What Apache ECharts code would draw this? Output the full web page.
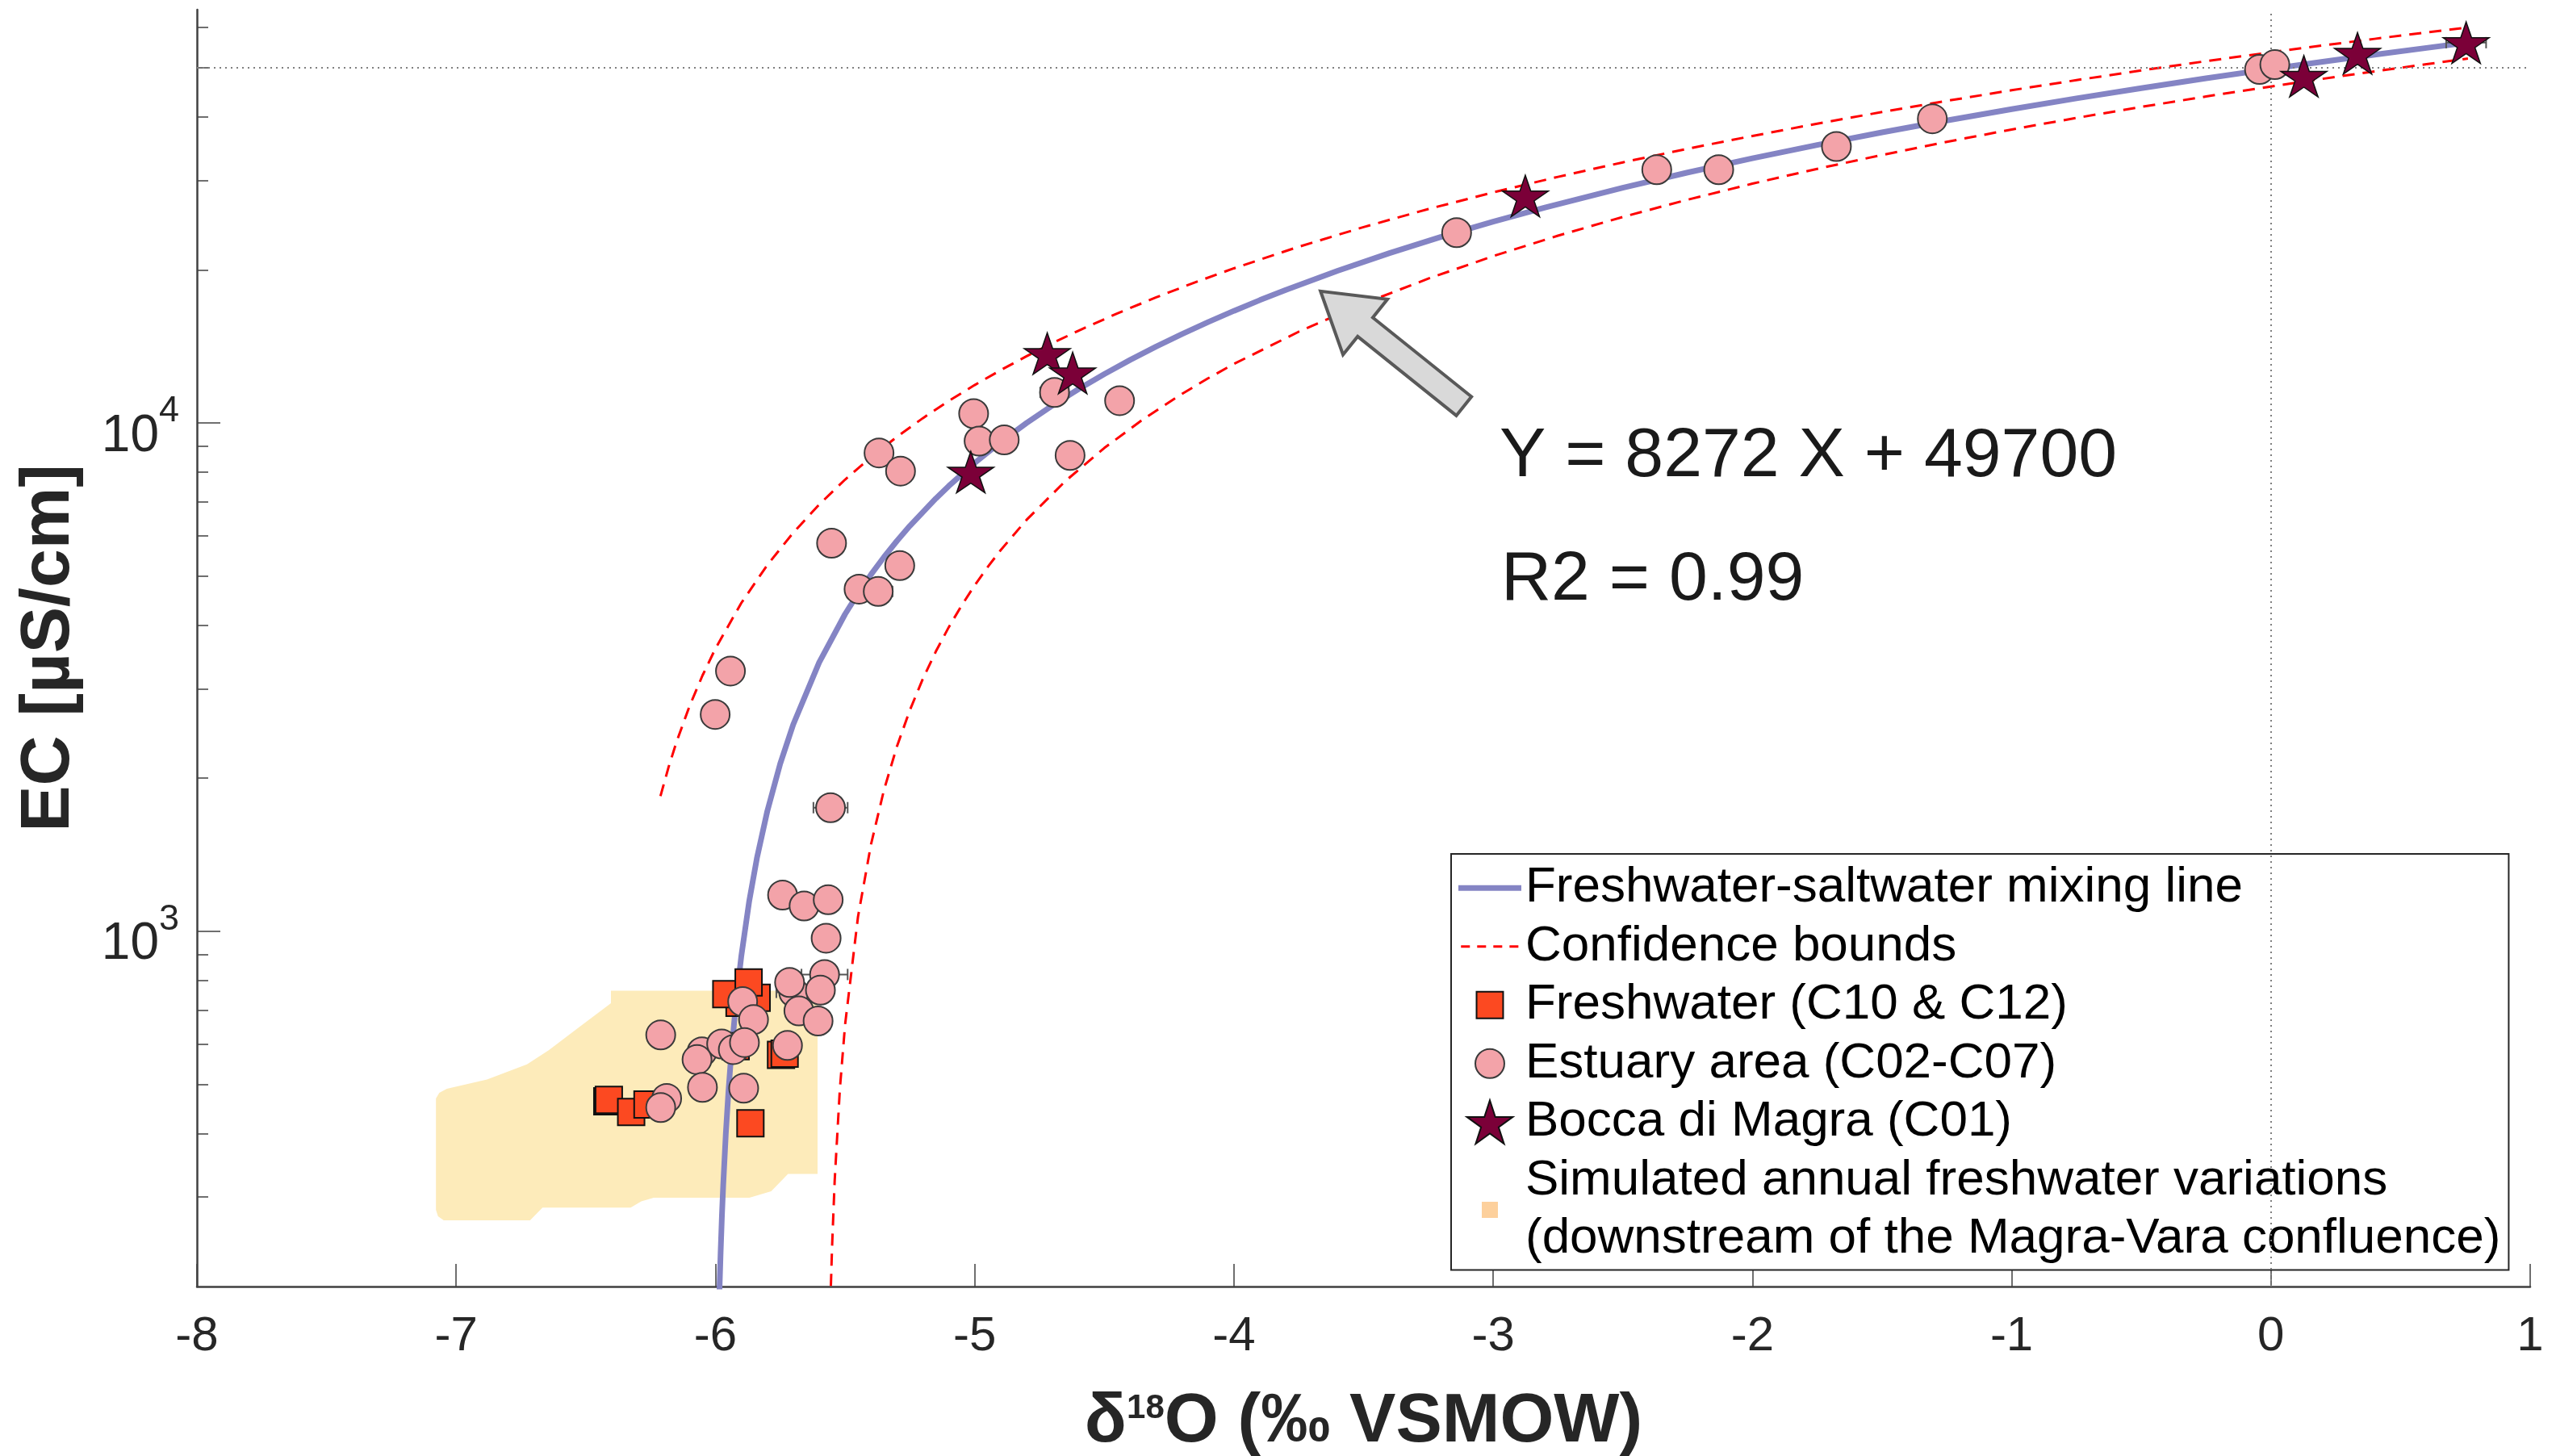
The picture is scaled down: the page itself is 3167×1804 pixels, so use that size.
<!DOCTYPE html>
<html lang="en">
<head>
<meta charset="UTF-8">
<title>EC vs d18O mixing</title>
<script src="https://cdn.jsdelivr.net/npm/echarts@6/dist/echarts.min.js"></script>
<style>
    html, body { margin: 0; padding: 0; background: #fff; }
    #main { width: 3167px; height: 1804px; }
</style>
</head>
<body>
<div id="main"></div>
<script>
// values: x = d18O (permil VSMOW), y = EC (uS/cm, log axis)
var yMajorTicks = [1000, 10000];
var yMinorTicks = [300, 400, 500, 600, 700, 800, 900, 2000, 3000, 4000, 5000, 6000, 7000, 8000, 9000,
    20000, 30000, 40000, 50000, 60000];
var seawaterEC = 50000;

// fitted mixing line and its confidence bounds, sampled along the drawn curves
var mixDelta = [-5.985, -5.98, -5.975, -5.97, -5.96, -5.95, -5.94, -5.92, -5.9, -5.87, -5.84, -5.8, -5.75, -5.7,
    -5.6, -5.5, -5.45, -5.4, -5.35, -5.3, -5.25, -5.15, -5.1, -5.0, -4.9, -4.8, -4.7, -4.6, -4.5, -4.4, -4.3, -4.2,
    -4.1, -4.0, -3.9, -3.8, -3.6, -3.4, -3.2, -3.0, -2.8, -2.5, -2.25, -2.0, -1.75, -1.5, -1.25, -1.0, -0.75,
    -0.5, -0.25, 0, 0.2, 0.4, 0.6, 0.76];
var mixEC = [192, 233, 275, 316, 399, 482, 564, 730, 895, 1143, 1392, 1722, 2136, 2550,
    3377, 4204, 4618, 5031, 5445, 5858, 6272, 7099, 7513, 8340, 9167, 9994, 10822, 11649, 12476, 13303, 14130, 14958,
    15785, 16612, 17439, 18266, 19921, 21575, 23230, 24884, 26538, 29020, 31088, 33156, 35224, 37292, 39360, 41428, 43496,
    45564, 47632, 49700, 51354, 53009, 54663, 55987];

var upperDelta = [-6.212, -6.18, -6.15, -6.1, -6.05, -6.0, -5.9, -5.8, -5.7, -5.6, -5.5, -5.4, -5.3, -5.2, -5.1,
    -5.0, -4.9, -4.8, -4.7, -4.6, -4.45, -4.3, -4.15, -4.0, -3.75, -3.5, -3.25, -3.0, -2.75, -2.5, -2.25, -2.0,
    -1.75, -1.5, -1.25, -1.0, -0.75, -0.5, -0.25, 0, 0.2, 0.4, 0.6, 0.76];
var upperEC = [1844, 2109, 2357, 2771, 3184, 3598, 4425, 5252, 6080, 6907, 7734, 8561, 9388, 10216, 11043,
    11870, 12697, 13524, 14352, 15179, 16420, 17660, 18901, 20142, 22210, 24278, 26346, 28414, 30482, 32550, 34618, 36686,
    38784, 40892, 43010, 45128, 47246, 49364, 51482, 53600, 55279, 56959, 58638, 59987];

var lowerDelta = [-5.557, -5.55, -5.54, -5.52, -5.5, -5.45, -5.4, -5.35, -5.3, -5.25, -5.2, -5.15, -5.1, -5.05,
    -5.0, -4.95, -4.9, -4.8, -4.65, -4.5, -4.35, -4.2, -4.1, -4.0, -3.75, -3.5, -3.25, -3.0, -2.75, -2.5, -2.25,
    -2.0, -1.75, -1.5, -1.25, -1.0, -0.75, -0.5, -0.25, 0, 0.2, 0.4, 0.6, 0.76];
var lowerEC = [183, 240, 323, 489, 654, 1068, 1481, 1895, 2308, 2722, 3136, 3549, 3963, 4376,
    4790, 5204, 5617, 6444, 7685, 8926, 10167, 11408, 12235, 13062, 15115, 17168, 19226, 21284, 23352, 25420, 27488,
    29556, 31609, 33662, 35720, 37778, 39811, 41844, 43872, 45900, 47529, 49159, 50783, 52087];

// samples
var freshwater = [[-5.907, 723], [-5.958, 752], [-5.841, 740], [-5.872, 793], [-6.417, 463], [-6.411, 466],
    [-6.325, 441], [-6.262, 456], [-5.865, 419], [-5.747, 571], [-5.733, 574], [-5.922, 594]];

var estuary = [[-5.369, 8730], [-5.286, 8040], [-5.004, 10430], [-4.983, 9210], [-4.886, 9260], [-4.692, 11480],
    [-4.441, 11060], [-4.632, 8630], [-5.552, 5800], [-5.289, 5240], [-5.446, 4710], [-5.372, 4660],
    [-5.942, 3250], [-6.001, 2670], [-5.556, 1750],
    [-3.141, 23670], [-2.369, 31490], [-2.130, 31490], [-1.676, 34980], [-1.306, 39660], [-0.044, 49580], [0.015, 50680],
    [-5.741, 1178], [-5.658, 1121], [-5.565, 1153], [-5.573, 969], [-5.579, 822], [-5.698, 758], [-5.714, 793],
    [-5.595, 766], [-5.678, 697], [-5.604, 666], [-5.895, 727], [-5.853, 670], [-6.211, 625], [-6.052, 579],
    [-5.976, 600], [-5.931, 585], [-5.888, 604], [-6.071, 559], [-5.722, 596], [-6.050, 493], [-5.891, 491],
    [-6.188, 469], [-6.211, 450]];

var bocca = [[-5.015, 8000], [-4.720, 13690], [-4.622, 12540], [-2.876, 27950], [0.127, 48080], [0.334, 53330], [0.753, 55980]];

// [d18O, EC, half-width of the d18O error bar]
var errBars = [[-5.556, 1750, 0.066], [-5.579, 822, 0.089], [-5.698, 758, 0.067], [0.753, 55980, 0.077],
    [-5.372, 4660, 0.055], [-4.692, 11480, 0.055]];

// simulated annual freshwater envelope (outline)
var simDelta = [-6.403, -5.606, -5.606, -5.720, -5.785, -5.869, -6.238, -6.286, -6.327, -6.667, -6.715, -7.048,
    -7.070, -7.078, -7.078, -7.065, -7.036, -6.881, -6.727, -6.643, -6.525, -6.403];
var simEC = [764, 764, 333, 333, 308, 299, 299, 294, 286, 286, 270, 270,
    275, 283, 469, 481, 490, 511, 547, 583, 648, 722];

// arrow: [tail d18O, tail EC, tip d18O, tip EC]
var arrow = [[-3.113, 10790, -3.666, 18160]];

var FONT = '"Liberation Sans", Arial, Helvetica, sans-serif';
var NAME_MIX = 'Freshwater-saltwater mixing line';
var NAME_CB = 'Confidence bounds';
var NAME_FW = 'Freshwater (C10 & C12)';
var NAME_EST = 'Estuary area (C02-C07)';
var NAME_BOC = 'Bocca di Magra (C01)';
var NAME_SIM = 'Simulated annual freshwater variations\n(downstream of the Magra-Vara confluence)';

var STAR = 'path://M50,0 L61.23,34.55 L97.55,34.55 L68.17,55.9 L79.39,90.45 L50,69.1 L20.61,90.45 L31.83,55.9 L2.45,34.55 L38.77,34.55 Z';
// legend icons padded inside a 144.4 x 100 box so they keep their own sizes
var PAD = 'M0,0 L0,0 M144.4,100 L144.4,100 ';
var ICON_LINE = 'path://' + PAD + 'M0,43.5 L144.4,43.5 L144.4,56.5 L0,56.5 Z';
var ICON_DASH = 'path://' + PAD + 'M6,47.2 L26.4,47.2 L26.4,52.8 L6,52.8 Z M43.1,47.2 L63.5,47.2 L63.5,52.8 L43.1,52.8 Z ' +
    'M80.2,47.2 L100.6,47.2 L100.6,52.8 L80.2,52.8 Z M117.3,47.2 L137.7,47.2 L137.7,52.8 L117.3,52.8 Z';
var ICON_SQ = 'path://' + PAD + 'M41.7,19.5 L102.7,19.5 L102.7,80.5 L41.7,80.5 Z';
var ICON_CIR = 'path://' + PAD + 'M38.9,50 A33.3,33.3 0 1 1 105.5,50 A33.3,33.3 0 1 1 38.9,50 Z';
var ICON_STAR = 'path://' + PAD + 'M72.2,0 L84.6,38.2 L124.8,38.2 L92.3,61.8 L104.7,100 L72.2,76.4 L39.7,100 L52.1,61.8 L19.6,38.2 L59.8,38.2 Z';
var ICON_SIM = 'path://' + PAD + 'M53.7,31.5 L90.7,31.5 L90.7,68.5 L53.7,68.5 Z';

function zip(xs, ys) {
    return xs.map(function (x, i) { return [x, ys[i]]; });
}

function renderSim(params, api) {
    var pts = simDelta.map(function (d, i) { return api.coord([d, simEC[i]]); });
    return { type: 'polygon', shape: { points: pts }, style: { fill: '#FDEBBA' }, silent: true };
}

function renderErr(params, api) {
    var x = api.value(0), y = api.value(1), h = api.value(2);
    var a = api.coord([x - h, y]), b = api.coord([x + h, y]);
    var c = 7;
    var st = { stroke: '#555', lineWidth: 2 };
    return {
        type: 'group', children: [
            { type: 'line', shape: { x1: a[0], y1: a[1], x2: b[0], y2: b[1] }, style: st },
            { type: 'line', shape: { x1: a[0], y1: a[1] - c, x2: a[0], y2: a[1] + c }, style: st },
            { type: 'line', shape: { x1: b[0], y1: b[1] - c, x2: b[0], y2: b[1] + c }, style: st }
        ]
    };
}

function renderArrow(params, api) {
    var t = api.coord([api.value(0), api.value(1)]);
    var p = api.coord([api.value(2), api.value(3)]);
    var dx = p[0] - t[0], dy = p[1] - t[1], L = Math.sqrt(dx * dx + dy * dy);
    var ux = dx / L, uy = dy / L, nx = -uy, ny = ux;
    var hw = 15, hh = 44, hl = 71;
    var bx = p[0] - ux * hl, by = p[1] - uy * hl;
    var pts = [
        [t[0] + nx * hw, t[1] + ny * hw], [bx + nx * hw, by + ny * hw], [bx + nx * hh, by + ny * hh], p,
        [bx - nx * hh, by - ny * hh], [bx - nx * hw, by - ny * hw], [t[0] - nx * hw, t[1] - ny * hw]
    ];
    return { type: 'polygon', shape: { points: pts }, style: { fill: '#D9D9D9', stroke: '#595959', lineWidth: 4 } };
}

var chart = echarts.init(document.getElementById('main'));
var option = {
    animation: false,
    backgroundColor: '#fff',
    grid: { left: 244, right: 32, top: 12, bottom: 210, outerBoundsMode: 'none' },
    xAxis: {
        type: 'value', min: -8, max: 1, interval: 1,
        name: '{b|δ}{s|18}{b|O (‰ VSMOW)}',
        nameLocation: 'middle', nameGap: 125,
        nameTextStyle: {
            rich: {
                b: { fontSize: 86, fontWeight: 'bold', fontFamily: FONT, color: '#262626', lineHeight: 86 },
                s: { fontSize: 42, fontWeight: 'bold', fontFamily: FONT, color: '#262626', lineHeight: 42, padding: [0, 0, 34, 0] }
            }
        },
        axisLine: { onZero: false, lineStyle: { color: '#404040', width: 2.5 } },
        axisTick: { inside: true, length: 28, lineStyle: { color: '#404040', width: 1.5 } },
        axisLabel: { fontSize: 60, lineHeight: 60, fontFamily: FONT, color: '#262626', margin: 32 },
        splitLine: { show: false }
    },
    yAxis: [{
        type: 'log', logBase: 10, min: 200, max: 65000, position: 'left',
        name: 'EC [µS/cm]', nameLocation: 'middle', nameGap: 140, nameRotate: 90,
        nameTextStyle: { fontSize: 86, fontWeight: 'bold', fontFamily: FONT, color: '#262626' },
        axisLine: { show: true, onZero: false, lineStyle: { color: '#404040', width: 2.5 } },
        axisTick: { inside: true, length: 29, customValues: yMajorTicks, lineStyle: { color: '#404040', width: 1.5 } },
        axisLabel: {
            customValues: yMajorTicks, margin: 22,
            formatter: function (v) { return '{b|10}{s|' + Math.round(Math.log10(v)) + '}'; },
            rich: {
                b: { fontSize: 64, lineHeight: 64, fontFamily: FONT, color: '#262626', padding: [34, 0, 0, 0] },
                s: { fontSize: 45, lineHeight: 45, fontFamily: FONT, color: '#262626', padding: [0, 0, 28, 0] }
            }
        },
        splitLine: { show: false }
    }, {
        type: 'log', logBase: 10, min: 200, max: 65000, position: 'left',
        axisLine: { show: false, onZero: false },
        axisTick: { inside: true, length: 14, customValues: yMinorTicks, lineStyle: { color: '#404040', width: 1.5 } },
        axisLabel: { show: false },
        splitLine: { show: false }
    }],
    legend: {
        orient: 'vertical', left: 1798, top: 1058,
        padding: [6, 10, 2, 8], itemGap: 0, itemWidth: 78, itemHeight: 54,
        selectedMode: false,
        backgroundColor: '#fff', borderColor: '#262626', borderWidth: 2,
        textStyle: { fontSize: 62, lineHeight: 72.5, fontFamily: FONT, color: '#000' },
        data: [
            { name: NAME_MIX, icon: ICON_LINE },
            { name: NAME_CB, icon: ICON_DASH },
            { name: NAME_FW, icon: ICON_SQ },
            { name: NAME_EST, icon: ICON_CIR },
            { name: NAME_BOC, icon: ICON_STAR },
            { name: NAME_SIM, icon: ICON_SIM }
        ]
    },
    graphic: [
        { type: 'text', x: 1858, y: 566, style: { text: 'Y = 8272 X + 49700', fontSize: 86, fontFamily: FONT, fill: '#1a1a1a', verticalAlign: 'middle' } },
        { type: 'text', x: 1860, y: 719, style: { text: 'R2 = 0.99', fontSize: 86, fontFamily: FONT, fill: '#1a1a1a', verticalAlign: 'middle' } }
    ],
    series: [
        {
            name: NAME_SIM, type: 'custom', renderItem: renderSim,
            data: [[simDelta[0], simEC[0]]], encode: { x: 0, y: 1 },
            itemStyle: { color: '#FDD09C', borderWidth: 0 }, z: 1
        },
        {
            name: NAME_MIX, type: 'line', data: zip(mixDelta, mixEC), symbol: 'none', clip: true,
            lineStyle: { color: '#8484C4', width: 7 }, itemStyle: { color: '#8484C4', borderWidth: 0 }, z: 3,
            markLine: {
                silent: true, symbol: ['none', 'none'], label: { show: false },
                lineStyle: { color: '#7f7f7f', width: 2, type: [2, 5] },
                data: [{ yAxis: seawaterEC }, { xAxis: 0 }]
            }
        },
        {
            name: NAME_CB, type: 'line', data: zip(upperDelta, upperEC), symbol: 'none', clip: true,
            lineStyle: { color: '#FF0000', width: 3, type: [15, 10] }, itemStyle: { color: '#FF0000', borderWidth: 0 }, z: 3
        },
        {
            name: NAME_CB, type: 'line', data: zip(lowerDelta, lowerEC), symbol: 'none', clip: true,
            lineStyle: { color: '#FF0000', width: 3, type: [15, 10] }, itemStyle: { color: '#FF0000', borderWidth: 0 }, z: 3
        },
        {
            name: 'arrow', type: 'custom', renderItem: renderArrow, data: arrow,
            encode: { x: [0, 2], y: [1, 3] }, silent: true, z: 4
        },
        {
            name: 'errors', type: 'custom', renderItem: renderErr, data: errBars,
            encode: { x: 0, y: 1 }, silent: true, z: 4
        },
        {
            name: NAME_FW, type: 'scatter', data: freshwater, symbol: 'rect', symbolSize: 33,
            itemStyle: { color: '#FC4921', borderColor: '#111', borderWidth: 2, opacity: 1 }, z: 5
        },
        {
            name: NAME_EST, type: 'scatter', data: estuary, symbol: 'circle', symbolSize: 36,
            itemStyle: { color: '#F3A3A9', borderColor: '#3a3a3a', borderWidth: 2, opacity: 1 }, z: 6
        },
        {
            name: NAME_BOC, type: 'scatter', data: bocca, symbol: STAR, symbolSize: [57, 54], symbolKeepAspect: true,
            itemStyle: { color: '#7B0038', borderColor: '#111', borderWidth: 1.5, opacity: 1 }, z: 7
        }
    ]
};
chart.setOption(option);
</script>
</body>
</html>
